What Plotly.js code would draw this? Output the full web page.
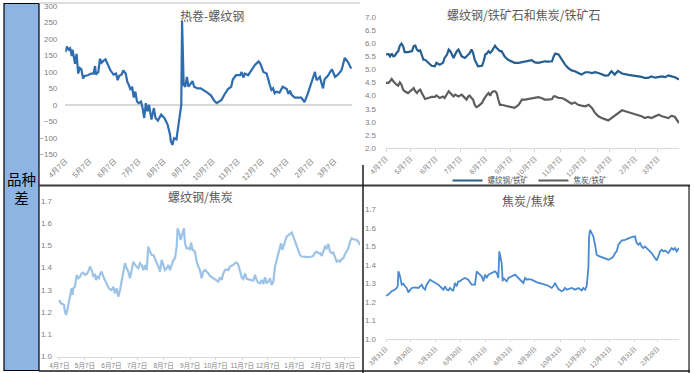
<!DOCTYPE html>
<html><head><meta charset="utf-8">
<script src="https://cdn.plot.ly/plotly-3.0.1.min.js"></script>
<style>html,body{margin:0;padding:0;background:#fff;} #chart{width:694px;height:373px;}</style>
</head><body><div id="chart"></div>
<script>
// ---------- DATA ----------
// 热卷-螺纹钢 (day offsets from 2016-04-07)
const tlBase = '2016-04-07';
const tlDays = [0,2,4,6,8,9,11,12,14,16,18,20,22,24,28,32,35,37,38,41,43,45,48,50,53,56,60,63,65,67,70,72,75,77,79,81,83,85,87,89,91,94,96,98,100,102,104,107,110,112,115,119,123,127,130,131,133,135,138,141,144,145,147,149,151,153,156,158,160,164,168,172,176,181,185,188,190,194,198,202,206,208,212,217,219,221,223,227,231,235,240,242,246,250,254,256,258,260,262,266,270,275,277,279,281,285,293,297,301,306,310,312,316,320,322,326,331,335,339,343,347,351,353,355];
const tlVals = [160,177,168,172,148,168,140,125,155,95,112,108,80,88,90,95,95,118,92,100,140,128,135,138,122,105,92,95,75,88,92,105,95,70,60,45,55,22,40,10,5,10,-10,-40,5,-20,0,-45,-10,-40,-48,-30,-40,-60,-90,-110,-122,-102,-105,-50,0,255,60,55,85,55,65,72,55,50,50,45,38,28,12,5,8,15,33,48,55,77,90,90,100,83,95,90,105,120,132,126,100,95,60,45,50,35,40,37,55,48,33,43,30,22,22,8,33,70,100,75,85,50,78,88,108,85,93,105,143,130,118,110];

// 螺纹钢/铁矿 & 焦炭/铁矿 (day offsets from 2016-04-07)
const trBase = '2016-04-07';
const trDays = [0,3,5,7,9,11,13,15,17,19,21,23,27,32,34,36,38,40,42,44,46,48,52,56,60,62,66,70,72,75,77,79,81,83,85,87,89,93,97,99,101,103,105,107,109,111,113,118,120,122,124,126,128,130,132,134,136,138,140,142,146,150,154,158,163,167,171,175,179,183,187,191,195,199,204,206,208,212,216,220,224,228,232,236,240,245,249,253,257,261,265,269,273,277,281,285,290,294,298,302,306,310,314,318,322,326,331,335,339,343,347,351,355,360];
const trRebarOre = [5.58,5.60,5.51,5.62,5.51,5.54,5.64,5.71,5.92,6.00,5.90,5.67,5.67,5.71,5.90,5.92,5.77,5.71,5.74,5.58,5.38,5.38,5.26,5.15,5.13,5.26,5.19,5.26,5.45,5.58,5.77,5.71,5.58,5.45,5.58,5.71,5.77,5.51,5.45,5.51,5.58,5.64,5.77,5.64,5.38,5.26,5.13,5.15,5.32,5.58,5.62,5.71,5.64,5.71,5.83,5.92,5.83,5.77,5.71,5.71,5.49,5.38,5.32,5.26,5.26,5.28,5.32,5.32,5.36,5.28,5.26,5.29,5.32,5.31,5.32,5.51,5.62,5.58,5.38,5.19,5.06,4.97,4.94,4.87,4.81,4.90,4.90,4.87,4.90,4.87,4.81,4.77,4.78,4.94,4.81,4.95,4.85,4.81,4.80,4.78,4.77,4.74,4.72,4.68,4.68,4.74,4.69,4.72,4.74,4.71,4.78,4.74,4.71,4.62];
const trCokeOre = [4.49,4.49,4.55,4.64,4.55,4.46,4.42,4.38,4.51,4.42,4.23,4.17,4.10,4.23,4.29,4.17,4.10,4.19,4.23,4.10,3.97,3.87,3.91,3.95,3.95,4.01,3.91,3.97,3.91,4.04,4.17,4.10,4.04,3.97,4.04,4.00,3.97,4.04,3.91,3.85,3.97,4.00,3.91,3.85,3.65,3.56,3.59,3.72,3.85,3.97,4.04,4.10,4.00,4.13,4.17,4.17,4.10,3.85,3.65,3.65,3.62,3.59,3.56,3.53,3.65,3.85,3.85,3.87,3.91,3.91,3.94,3.91,3.85,3.85,3.87,3.97,3.97,3.91,3.91,3.85,3.78,3.69,3.74,3.65,3.62,3.59,3.65,3.53,3.33,3.21,3.14,3.08,3.05,3.14,3.23,3.33,3.44,3.40,3.36,3.33,3.27,3.23,3.21,3.14,3.18,3.14,3.23,3.27,3.21,3.18,3.14,3.23,3.18,2.95];
const trNames = ['螺纹钢/铁矿', '焦炭/铁矿'];

// 螺纹钢/焦炭 (day offsets from 2016-04-07)
const blBase = '2016-04-07';
const blDays = [0,1.6,3.9,5.5,6.6,7.8,9.4,11.7,13.3,14.4,15.6,16.4,18.3,20.3,22.2,24.2,26.1,28.1,30,32,33.9,35.9,37.8,39.8,41.7,42.9,44.5,46.4,47.6,49.5,51.5,53.4,55.4,57.3,59.3,61.2,63.2,65.1,67.1,69,71,72.9,74.9,76.8,78.8,80.7,82.7,84.6,86.6,88.5,90.5,92.4,94.4,96.3,98.3,100.2,102.2,104.1,106.1,108,110,111.9,113.9,115.8,117.8,119.7,121.7,123.6,125.6,127.5,129.5,131.4,133.4,135.3,137.3,138.4,140.4,141.9,144.3,145.8,147,149,150.9,152.9,154,156,158.7,160.6,162.6,164.5,166.5,168.4,170.4,172.3,174.3,176.2,180.1,184,186,187.9,189.9,191.8,193.8,195.7,197.7,199.6,201.6,203.5,205.5,207.4,209.4,211.3,213.3,215.2,217.2,219.1,221.1,223,225,226.9,228.9,230.8,232.8,234.7,236.7,238.6,240.6,242.5,244.5,246.4,248.4,250.3,252.3,254.2,256.2,258.1,259.3,260.9,262.4,264,265.9,267.9,269.8,271.8,273.7,275.7,277.6,279.6,281.5,283.5,287.4,291.3,295.2,297.1,299.1,301,303,304.9,306.9,308.8,310.8,312.7,314.7,316.6,318.6,320.5,322.5,324.4,326.4,328.3,330.3,332.2,334.2,336.1,338.1,340,342,343.9,345.9,347.8,349.8,351.7];
const blVals = [1.254,1.239,1.236,1.232,1.202,1.186,1.209,1.254,1.277,1.307,1.277,1.307,1.314,1.367,1.352,1.359,1.374,1.377,1.367,1.371,1.382,1.405,1.389,1.362,1.367,1.344,1.359,1.352,1.371,1.382,1.359,1.344,1.322,1.311,1.302,1.299,1.314,1.284,1.307,1.269,1.299,1.337,1.382,1.420,1.397,1.382,1.352,1.389,1.427,1.412,1.405,1.397,1.420,1.412,1.389,1.412,1.389,1.495,1.472,1.457,1.457,1.442,1.420,1.405,1.382,1.435,1.412,1.389,1.397,1.412,1.389,1.412,1.435,1.442,1.495,1.577,1.555,1.525,1.562,1.577,1.510,1.487,1.487,1.483,1.513,1.480,1.472,1.427,1.405,1.389,1.352,1.382,1.389,1.382,1.374,1.362,1.352,1.344,1.337,1.356,1.344,1.374,1.389,1.392,1.389,1.405,1.408,1.412,1.420,1.423,1.412,1.389,1.356,1.349,1.374,1.349,1.347,1.347,1.344,1.341,1.367,1.344,1.332,1.329,1.344,1.326,1.356,1.329,1.337,1.352,1.322,1.337,1.405,1.435,1.465,1.487,1.510,1.480,1.495,1.517,1.540,1.547,1.555,1.558,1.540,1.517,1.495,1.472,1.457,1.450,1.447,1.447,1.450,1.453,1.468,1.472,1.465,1.465,1.453,1.472,1.495,1.487,1.507,1.472,1.465,1.468,1.442,1.427,1.432,1.427,1.438,1.442,1.462,1.472,1.487,1.517,1.532,1.528,1.525,1.525,1.517,1.502];

// 焦炭/焦煤 (day offsets from 2016-03-31)
const brBase = '2016-03-31';
const brDays = [0,2.9,7,11.1,13.1,14.4,15.2,17.2,19.3,21.3,23.4,25.4,27.5,29.5,31.6,35.7,39.8,41.8,43.9,45.9,48,50,52.1,54.1,56.2,60.3,64.4,66.4,68.5,70.5,72.6,74.6,76.7,78.7,80.7,82.8,84.8,86.9,88.9,91,93,97.1,101.2,105.3,109.4,111.5,113.5,115.6,117.6,119.7,121.7,123.8,125.8,127.9,129.9,132,134,136.1,138.1,139.3,140.6,142.2,143.4,144.3,146.3,148.4,150.4,154.5,158.6,162.7,166.8,168.9,170.9,173,175,179.1,183.2,187.3,191.4,195.5,199.6,203.7,205.7,207.8,209.8,211.9,216,218,220.1,222.1,224.2,228.3,232.4,236.5,240.6,242.6,244.7,246.7,248.8,249.6,250.8,252.9,254.9,257,259,261.1,265.2,269.3,273.4,277.5,279.5,281.6,283.6,285.7,287.7,289.7,293.8,297.9,302,306.1,308.2,310.2,312.3,314.3,316.4,318.4,320.5,322.5,326.6,330.7,332.8,334.8,336.9,338.9,341,343,345.1,347.1,349.2,351.2,353.3,355.3,357.4,359.4,360.2];
const brVals = [1.234,1.240,1.258,1.267,1.276,1.285,1.366,1.339,1.294,1.299,1.285,1.276,1.252,1.267,1.276,1.279,1.276,1.285,1.294,1.276,1.267,1.294,1.312,1.321,1.315,1.306,1.294,1.285,1.276,1.267,1.285,1.267,1.263,1.276,1.267,1.263,1.303,1.285,1.312,1.312,1.321,1.330,1.321,1.294,1.294,1.366,1.357,1.348,1.339,1.312,1.348,1.330,1.348,1.353,1.357,1.360,1.366,1.357,1.330,1.474,1.447,1.411,1.312,1.330,1.321,1.312,1.330,1.339,1.348,1.330,1.312,1.303,1.330,1.321,1.324,1.321,1.312,1.303,1.299,1.294,1.288,1.276,1.285,1.303,1.285,1.270,1.258,1.263,1.276,1.267,1.270,1.276,1.267,1.276,1.263,1.276,1.267,1.285,1.384,1.546,1.591,1.573,1.555,1.510,1.456,1.450,1.443,1.438,1.429,1.438,1.447,1.465,1.474,1.510,1.519,1.533,1.537,1.546,1.551,1.555,1.519,1.510,1.519,1.501,1.492,1.501,1.492,1.486,1.465,1.438,1.425,1.447,1.474,1.483,1.474,1.479,1.470,1.465,1.479,1.492,1.483,1.492,1.474,1.486,1.492];

// tick labels
const ticksA = ['2016-04-07','2016-05-07','2016-06-07','2016-07-07','2016-08-07','2016-09-07','2016-10-07','2016-11-07','2016-12-07','2017-01-07','2017-02-07','2017-03-07'];
const labelsA = ['4月7日','5月7日','6月7日','7月7日','8月7日','9月7日','10月7日','11月7日','12月7日','1月7日','2月7日','3月7日'];
const ticksB = ['2016-03-31','2016-04-30','2016-05-31','2016-06-30','2016-07-31','2016-08-31','2016-09-30','2016-10-31','2016-11-30','2016-12-31','2017-01-31','2017-02-28'];
const labelsB = ['3月31日','4月30日','5月31日','6月30日','7月31日','8月31日','9月30日','10月31日','11月30日','12月31日','1月31日','2月28日'];

const titles = ['热卷-螺纹钢', '螺纹钢/铁矿石和焦炭/铁矿石', '螺纹钢/焦炭', '焦炭/焦煤'];
const sideLabel = '品种<br>差';

// ---------- HELPERS ----------
const W = 694, H = 373;
const fx = p => p / W;
const fy = p => 1 - p / H;
function dt(base, d) {
  const t = Date.parse(base + 'T00:00:00Z') + d * 86400000;
  return new Date(t).toISOString().replace('T', ' ').slice(0, 19);
}
const toX = (base, days) => days.map(d => dt(base, d));

const FONT = 'Liberation Sans, Noto Sans CJK SC, sans-serif';
const CJK = 'Noto Sans CJK SC, sans-serif';
const tickFont = {family: FONT, size: 7.5, color: '#7f7f7f'};
const midTickFont = {family: FONT, size: 7, color: '#7f7f7f'};
const smallTickFont = {family: FONT, size: 6.5, color: '#7f7f7f'};
const yTickFont = {family: FONT, size: 8, color: '#7f7f7f'};

const traces = [
  {x: toX(tlBase, tlDays), y: tlVals, xaxis: 'x', yaxis: 'y', type: 'scatter', mode: 'lines',
   line: {color: '#2E6DB0', width: 2.2}, showlegend: false},
  {x: toX(trBase, trDays), y: trRebarOre, xaxis: 'x2', yaxis: 'y2', type: 'scatter', mode: 'lines',
   name: trNames[0], line: {color: '#255E91', width: 2.2}, showlegend: true},
  {x: toX(trBase, trDays), y: trCokeOre, xaxis: 'x2', yaxis: 'y2', type: 'scatter', mode: 'lines',
   name: trNames[1], line: {color: '#5E5E5E', width: 2.2}, showlegend: true},
  {x: toX(blBase, blDays), y: blVals, xaxis: 'x3', yaxis: 'y3', type: 'scatter', mode: 'lines',
   line: {color: '#9DC3E6', width: 2.2}, showlegend: false},
  {x: toX(brBase, brDays), y: brVals, xaxis: 'x4', yaxis: 'y4', type: 'scatter', mode: 'lines',
   line: {color: '#4A8AD0', width: 1.8}, showlegend: false}
];

const baseX = {type: 'date', showgrid: false, zeroline: false, tickfont: tickFont, fixedrange: true};
const baseY = {showgrid: false, zeroline: false, tickfont: yTickFont, ticks: '', fixedrange: true};

const layout = {
  width: W, height: H,
  margin: {l: 0, r: 0, t: 0, b: 0, pad: 0},
  paper_bgcolor: '#ffffff', plot_bgcolor: 'rgba(0,0,0,0)',
  font: {family: FONT},
  xaxis: Object.assign({}, baseX, {domain: [fx(65.3), fx(352)], range: [dt(tlBase, 0), dt(tlBase, 356)],
    tickvals: ticksA, ticktext: labelsA, tickangle: -45, showline: false, ticks: '', anchor: 'y'}),
  yaxis: Object.assign({}, baseY, {domain: [fy(154.3), fy(6)], range: [-150.5, 300.5], dtick: 50, tick0: 0,
    zeroline: true, zerolinecolor: '#d9d9d9', zerolinewidth: 1.5, ticklabelstandoff: 7, anchor: 'x'}),
  xaxis2: Object.assign({}, baseX, {domain: [fx(386), fx(679)], range: [dt(trBase, 0), dt(trBase, 360)],
    tickvals: ticksA, ticktext: labelsA, tickangle: -45, tickfont: midTickFont, showline: true,
    linecolor: '#d9d9d9', linewidth: 1, ticks: 'outside', ticklen: 3, tickcolor: '#d9d9d9', anchor: 'y2'}),
  yaxis2: Object.assign({}, baseY, {domain: [fy(148), fy(17.3)], range: [1.99, 7.01], dtick: 0.5, tick0: 0,
    tickformat: '.1f', ticklabelstandoff: 9, anchor: 'x2'}),
  xaxis3: Object.assign({}, baseX, {domain: [fx(57), fx(360)], range: [dt(blBase, -2.7), dt(blBase, 351.7)],
    tickvals: ticksA, ticktext: labelsA, tickangle: 0, tickfont: smallTickFont, showline: true,
    linecolor: '#d9d9d9', linewidth: 1, ticks: 'outside', ticklen: 2, tickcolor: '#d9d9d9', anchor: 'y3'}),
  yaxis3: Object.assign({}, baseY, {domain: [fy(356.7), fy(200.7)], range: [0.998, 1.702], dtick: 0.1, tick0: 0,
    tickformat: '.1f', ticklabelstandoff: 4, anchor: 'x3'}),
  xaxis4: Object.assign({}, baseX, {domain: [fx(386), fx(679)], range: [dt(brBase, 0), dt(brBase, 360.2)],
    tickvals: ticksB, ticktext: labelsB, tickangle: -45, tickfont: smallTickFont, showline: true,
    linecolor: '#d9d9d9', linewidth: 1, ticks: 'outside', ticklen: 2, tickcolor: '#d9d9d9', anchor: 'y4'}),
  yaxis4: Object.assign({}, baseY, {domain: [fy(339.3), fy(209.3)], range: [0.998, 1.702], dtick: 0.1, tick0: 0,
    tickformat: '.1f', ticklabelstandoff: 9, anchor: 'x4'}),
  showlegend: true,
  legend: {orientation: 'h', x: fx(530), xanchor: 'center', y: fy(180.5), yanchor: 'middle',
    font: {family: CJK, size: 7.5, color: '#595959'}, bgcolor: 'rgba(0,0,0,0)', itemwidth: 30,
    tracegroupgap: 0},
  annotations: [
    {text: titles[0], xref: 'paper', yref: 'paper', x: fx(212), y: fy(15), showarrow: false,
     font: {family: CJK, size: 12, color: '#595959'}, xanchor: 'center', yanchor: 'middle'},
    {text: titles[1], xref: 'paper', yref: 'paper', x: fx(523), y: fy(14), showarrow: false,
     font: {family: CJK, size: 12, color: '#595959'}, xanchor: 'center', yanchor: 'middle'},
    {text: titles[2], xref: 'paper', yref: 'paper', x: fx(201), y: fy(196), showarrow: false,
     font: {family: CJK, size: 12, color: '#595959'}, xanchor: 'center', yanchor: 'middle'},
    {text: titles[3], xref: 'paper', yref: 'paper', x: fx(528), y: fy(200), showarrow: false,
     font: {family: CJK, size: 12, color: '#595959'}, xanchor: 'center', yanchor: 'middle'},
    {text: sideLabel, xref: 'paper', yref: 'paper', x: fx(21.5), y: fy(188), showarrow: false,
     font: {family: CJK, size: 14.5, color: '#000000'}, xanchor: 'center', yanchor: 'middle', align: 'center'}
  ],
  shapes: [
    {type: 'rect', xref: 'paper', yref: 'paper', x0: fx(4), x1: fx(39), y0: fy(370.5), y1: fy(3.5),
     fillcolor: '#8DB4E2', line: {color: '#000000', width: 1.2}, layer: 'below'},
    {type: 'line', xref: 'paper', yref: 'paper', x0: fx(39), x1: fx(360), y0: fy(3), y1: fy(3),
     line: {color: '#bfbfbf', width: 1.2}},
    {type: 'line', xref: 'paper', yref: 'paper', x0: fx(39), x1: fx(690), y0: fy(185.5), y1: fy(185.5),
     line: {color: '#3a3a3a', width: 2}},
    {type: 'line', xref: 'paper', yref: 'paper', x0: fx(363), x1: fx(363), y0: fy(165), y1: fy(373),
     line: {color: '#1a1a1a', width: 1.5}},
    {type: 'line', xref: 'paper', yref: 'paper', x0: fx(689), x1: fx(689), y0: fy(185), y1: fy(373),
     line: {color: '#1a1a1a', width: 1.2}},
    {type: 'line', xref: 'paper', yref: 'paper', x0: fx(39), x1: fx(690), y0: fy(371), y1: fy(371),
     line: {color: '#1a1a1a', width: 1.5}}
  ]
};

Plotly.newPlot('chart', traces, layout, {displayModeBar: false, staticPlot: true});
</script></body></html>
